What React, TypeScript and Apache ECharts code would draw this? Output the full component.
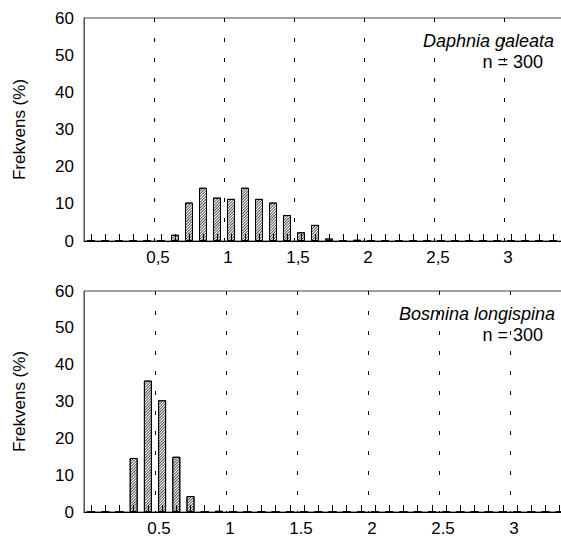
import React, { useEffect, useRef } from 'react';
import * as echarts from 'echarts';

// Bin centres (length classes, mm), bin width 0.1
const binCenters = [
  '0.05', '0.15', '0.25', '0.35', '0.45', '0.55', '0.65', '0.75', '0.85', '0.95',
  '1.05', '1.15', '1.25', '1.35', '1.45', '1.55', '1.65', '1.75', '1.85', '1.95',
  '2.05', '2.15', '2.25', '2.35', '2.45', '2.55', '2.65', '2.75', '2.85', '2.95',
  '3.05', '3.15', '3.25', '3.35', '3.45', '3.55',
];

// Frequency (%) per bin – Daphnia galeata (n = 300)
const daphniaPct = [
  0, 0, 0, 0, 0, 0, 1.67, 10.33, 14.33, 11.67,
  11.33, 14.33, 11.33, 10.33, 7, 2.33, 4.33, 0.67, 0, 0.33,
  0, 0, 0, 0, 0, 0, 0, 0, 0, 0,
  0, 0, 0, 0, 0, 0,
];

// Frequency (%) per bin – Bosmina longispina (n = 300)
const bosminaPct = [
  0, 0, 0, 14.67, 35.67, 30.33, 15, 4.33, 0, 0.33,
  0, 0, 0, 0, 0, 0, 0, 0, 0, 0,
  0, 0, 0, 0, 0, 0, 0, 0, 0, 0,
  0, 0, 0, 0, 0, 0,
];

const xLabelValues = [0.5, 1, 1.5, 2, 2.5, 3];
const speciesTop = 'Daphnia galeata';
const speciesBottom = 'Bosmina longispina';
const nText = 'n = 300';
const yName = 'Frekvens (%)';

const FONT = "'Liberation Sans', Arial, sans-serif";

const hatch = {
  color: '#ffffff',
  borderColor: '#000000',
  borderWidth: 1,
  decal: {
    symbol: 'rect',
    symbolSize: 1,
    color: '#555555',
    dashArrayX: [1, 0],
    dashArrayY: [1, 1],
    rotation: -Math.PI / 4,
  },
};

function catAxis(g: number) {
  return {
    type: 'category',
    gridIndex: g,
    data: binCenters,
    boundaryGap: true,
    position: 'bottom',
    z: 5,
    axisLine: { show: true, onZero: false, lineStyle: { color: '#000', width: 1 } },
    axisTick: { show: true, inside: true, length: 7, alignWithLabel: true, interval: 0, lineStyle: { color: '#000', width: 1 } },
    axisLabel: { show: false },
    splitLine: { show: false },
  };
}

function valAxis(g: number, sep: string) {
  return {
    type: 'value',
    gridIndex: g,
    min: 0,
    max: 3.6,
    interval: 0.5,
    position: 'bottom',
    axisLine: { show: false, onZero: false },
    axisTick: { show: false },
    splitLine: { show: true, lineStyle: { color: '#000', width: 1, type: [4, 16] } },
    axisLabel: {
      fontSize: 17,
      color: '#000',
      fontFamily: FONT,
      margin: 8,
      padding: [0, 0, 0, 8],
      hideOverlap: false,
      formatter: (v: number) => (xLabelValues.some((x) => Math.abs(x - v) < 1e-6) ? String(v).replace('.', sep) : ''),
    },
  };
}

function yAxis(g: number) {
  return {
    type: 'value',
    gridIndex: g,
    min: 0,
    max: 60,
    interval: 10,
    z: 4,
    axisLine: { show: true, lineStyle: { color: '#555', width: 1 } },
    axisTick: { show: false },
    splitLine: { show: false },
    axisLabel: { fontSize: 17, color: '#000', fontFamily: FONT, margin: 10 },
    name: yName,
    nameLocation: 'middle',
    nameGap: 56,
    nameRotate: 90,
    nameTextStyle: { fontSize: 17, color: '#000', fontFamily: FONT },
  };
}

function textEl(text: string, x: number, y: number, italic: boolean) {
  return {
    type: 'text',
    x,
    y,
    z: 10,
    style: {
      text,
      fill: '#000',
      fontSize: 18,
      fontFamily: FONT,
      fontStyle: italic ? 'italic' : 'normal',
      align: 'right',
      verticalAlign: 'middle',
    },
  };
}

export default function App() {
  const ref = useRef<HTMLDivElement>(null);
  useEffect(() => {
    if (!ref.current) return;
    const chart = echarts.init(ref.current, undefined, { renderer: 'svg' });
    chart.setOption({
      animation: false,
      backgroundColor: '#ffffff',
      grid: [
        { left: 84, top: 18, width: 504, height: 223, outerBoundsMode: 'none', containLabel: false, show: true, borderColor: '#444', borderWidth: 1, backgroundColor: 'transparent' },
        { left: 84, top: 291, width: 511.2, height: 221, outerBoundsMode: 'none', containLabel: false, show: true, borderColor: '#444', borderWidth: 1, backgroundColor: 'transparent' },
      ],
      xAxis: [catAxis(0), valAxis(0, ','), catAxis(1), valAxis(1, '.')],
      yAxis: [yAxis(0), yAxis(1)],
      series: [
        { type: 'bar', xAxisIndex: 0, yAxisIndex: 0, data: daphniaPct, barWidth: 8, itemStyle: hatch },
        { type: 'bar', xAxisIndex: 2, yAxisIndex: 1, data: bosminaPct, barWidth: 8, itemStyle: hatch },
      ],
      graphic: [
        textEl(speciesTop, 554, 41, true),
        textEl(nText, 543, 62, false),
        textEl(speciesBottom, 555, 314, true),
        textEl(nText, 543, 335, false),
      ],
    });
    return () => chart.dispose();
  }, []);
  return <div ref={ref} style={{ position: 'absolute', left: 0, top: 0, width: 561, height: 540 }} />;
}
